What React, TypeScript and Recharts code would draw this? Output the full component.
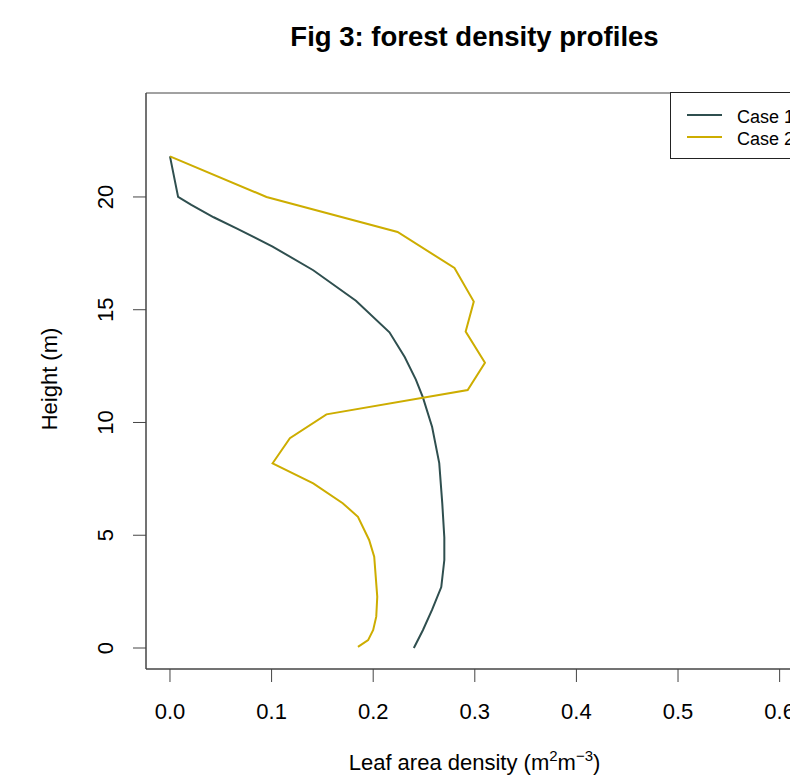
import React from 'react';
import { ScatterChart, Scatter, XAxis, YAxis, ReferenceArea, Legend } from 'recharts';

// leaf area density (m2 m-3) against height (m)
const case1Density = [0, 0.008, 0.021, 0.043, 0.066, 0.101, 0.141, 0.183, 0.216, 0.231, 0.242, 0.249, 0.258, 0.265, 0.268, 0.270, 0.270, 0.267, 0.258, 0.249, 0.240];
const case1Height = [21.8, 20.0, 19.65, 19.1, 18.6, 17.8, 16.75, 15.4, 14.0, 12.9, 11.9, 11.1, 9.8, 8.2, 6.4, 4.9, 3.9, 2.7, 1.7, 0.8, 0];

const case2Density = [0, 0.095, 0.224, 0.280, 0.299, 0.291, 0.310, 0.293, 0.154, 0.118, 0.101, 0.141, 0.170, 0.185, 0.196, 0.201, 0.204, 0.203, 0.200, 0.195, 0.185];
const case2Height = [21.8, 20.0, 18.45, 16.85, 15.36, 14.03, 12.65, 11.44, 10.36, 9.3, 8.19, 7.3, 6.42, 5.82, 4.79, 4.05, 2.27, 1.39, 0.8, 0.35, 0.05];

const seriesNames = ['Case 1', 'Case 2'];
const seriesColors = ['#2F4F4F', '#CDAD00'];

const xTicks = [0, 0.1, 0.2, 0.3, 0.4, 0.5, 0.6];
const yTicks = [0, 5, 10, 15, 20];

const FONT = '"Liberation Sans", Arial, sans-serif';
const X_DOMAIN: [number, number] = [-0.0236, 0.623];
const Y_DOMAIN: [number, number] = [-0.931, 24.61];

const toPoints = (xs: number[], ys: number[]) => xs.map((d, i) => ({ density: d, height: ys[i] }));
const series = [toPoints(case1Density, case1Height), toPoints(case2Density, case2Height)];

const XTick = (props: any) => (
    <text x={props.x} y={props.y + 37} textAnchor="middle" fontSize={22} fontFamily={FONT} fill="#000">
        {Number(props.payload.value).toFixed(1)}
    </text>
);

const YTick = (props: any) => {
    const bx = props.x - 20;
    return (
        <text x={bx} y={props.y} transform={`rotate(-90, ${bx}, ${props.y})`} textAnchor="middle"
            fontSize={22} fontFamily={FONT} fill="#000">
            {props.payload.value}
        </text>
    );
};

const XLabel = (props: any) => {
    const vb = props.viewBox;
    return (
        <text x={vb.x + vb.width / 2} y={vb.y + 101} textAnchor="middle" fontSize={22} fontFamily={FONT} fill="#000">
            Leaf area density (m
            <tspan dy={-9} fontSize={15}>2</tspan>
            <tspan dy={9}>m</tspan>
            <tspan dy={-9} fontSize={15}>−3</tspan>
            <tspan dy={9}>)</tspan>
        </text>
    );
};

const YLabel = () => (
    <text x={57} y={379} transform="rotate(-90, 57, 379)" textAnchor="middle" fontSize={22} fontFamily={FONT} fill="#000">
        Height (m)
    </text>
);

const LegendBox = () => (
    <div style={{
        boxSizing: 'border-box', width: 133, height: 67, border: '1px solid #222', background: '#fff',
        padding: '11px 0 0 16px', fontFamily: FONT, fontSize: 18, color: '#000',
    }}>
        {seriesNames.map((name, i) => (
            <div key={name} style={{ display: 'flex', alignItems: 'center', height: 22 }}>
                <svg width={35} height={4} style={{ marginRight: 15 }}>
                    <line x1={0} y1={2} x2={35} y2={2} stroke={seriesColors[i]} strokeWidth={2} />
                </svg>
                <span style={{ lineHeight: '22px', position: 'relative', top: 2 }}>{name}</span>
            </div>
        ))}
    </div>
);

const App: React.FC = () => (
    <div style={{ position: 'fixed', left: 0, top: 0, width: 790, height: 777, overflow: 'hidden', background: '#fff' }}>
        <div style={{
            position: 'absolute', left: 0, top: 23, width: 949, textAlign: 'center', zIndex: 2,
            fontFamily: FONT, fontWeight: 'bold', fontSize: 27.5, lineHeight: '27.5px', color: '#000',
        }}>
            Fig 3: forest density profiles
        </div>
        <ScatterChart width={830} height={777} margin={{ top: 93, right: 27, bottom: 0, left: 0 }}>
            <XAxis type="number" dataKey="density" domain={X_DOMAIN} ticks={xTicks} allowDataOverflow
                height={108} tickSize={13} tickMargin={0} tick={<XTick />}
                axisLine={{ stroke: '#444' }} tickLine={{ stroke: '#444' }} label={<XLabel />} />
            <YAxis type="number" dataKey="height" domain={Y_DOMAIN} ticks={yTicks} allowDataOverflow
                width={146} tickSize={13} tickMargin={0} tick={<YTick />}
                axisLine={{ stroke: '#444' }} tickLine={{ stroke: '#444' }} label={<YLabel />} />
            <ReferenceArea x1={X_DOMAIN[0]} x2={X_DOMAIN[1]} y1={Y_DOMAIN[0]} y2={Y_DOMAIN[1]}
                fill="none" stroke="#444" strokeWidth={1} />
            {series.map((pts, i) => (
                <Scatter key={seriesNames[i]} name={seriesNames[i]} data={pts} isAnimationActive={false}
                    line={{ stroke: seriesColors[i], strokeWidth: 2 }} lineType="joint" shape={() => <g />} />
            ))}
            <Legend layout="horizontal" verticalAlign="middle" align="center" content={<LegendBox />}
                wrapperStyle={{ position: 'absolute', left: 670, top: 92, width: 133, height: 67 }} />
        </ScatterChart>
    </div>
);

export default App;
